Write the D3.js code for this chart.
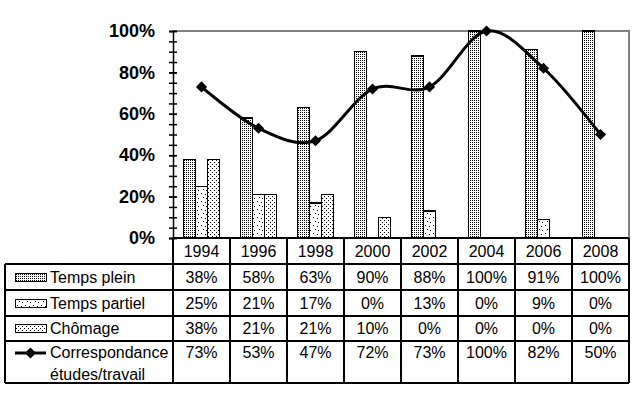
<!DOCTYPE html>
<html lang="fr">
<head>
<meta charset="UTF-8">
<script src="https://d3js.org/d3.v7.min.js"></script>
<style>
  body { margin: 0; background: #fff; }
  text { font-family: Arial, "Liberation Sans", sans-serif; fill: #000; }
</style>
</head>
<body>
<svg id="chart" width="639" height="399"></svg>
<script>
const annees = ["1994", "1996", "1998", "2000", "2002", "2004", "2006", "2008"];
const tempsPlein = [38, 58, 63, 90, 88, 100, 91, 100];
const tempsPartiel = [25, 21, 17, 0, 13, 0, 9, 0];
const chomage = [38, 21, 21, 10, 0, 0, 0, 0];
const correspondance = [73, 53, 47, 72, 73, 100, 82, 50];
const yTicks = [0, 20, 40, 60, 80, 100];

const series = [
  { nom: "Temps plein", valeurs: tempsPlein, motif: "url(#p-plein)" },
  { nom: "Temps partiel", valeurs: tempsPartiel, motif: "url(#p-partiel)" },
  { nom: "Chômage", valeurs: chomage, motif: "url(#p-chomage)" }
];

const svg = d3.select("#chart");
const plot = { left: 173, right: 629, top: 31, bottom: 238 };
const tableau = { left: 5, rows: [238, 264, 290, 316, 341, 383] };

// motifs des barres
const defs = svg.append("defs");
function motif(id, w, h, pts) {
  const p = defs.append("pattern").attr("id", id)
    .attr("patternUnits", "userSpaceOnUse").attr("width", w).attr("height", h);
  p.append("rect").attr("width", w).attr("height", h).attr("fill", "#fff");
  pts.forEach(([x, y]) => p.append("rect").attr("x", x).attr("y", y)
    .attr("width", 1).attr("height", 1).attr("fill", "#000")
    .attr("shape-rendering", "crispEdges"));
}
motif("p-plein", 2, 2, [[0, 0]]);
motif("p-partiel", 8, 8, [[1, 1], [5, 2], [3, 5], [6, 6]]);
motif("p-chomage", 4, 4, [[0, 0], [2, 2]]);

const x = d3.scaleBand().domain(annees).range([plot.left, plot.right]);
const xs = d3.scaleBand().domain(series.map(s => s.nom)).range([10.5, 46.5]);
const y = d3.scaleLinear().domain([0, 100]).range([plot.bottom, plot.top]);

// cadre gris de la zone de tracé
svg.append("path")
  .attr("d", `M${plot.left},${plot.top}H${plot.right}V${plot.bottom}`)
  .attr("fill", "none").attr("stroke", "#808080").attr("stroke-width", 1.2)
  .attr("shape-rendering", "crispEdges");

// barres
series.forEach(s => {
  svg.append("g").selectAll("rect")
    .data(s.valeurs.map((v, i) => ({ annee: annees[i], v })).filter(d => d.v > 0))
    .enter().append("rect")
    .attr("x", d => x(d.annee) + xs(s.nom))
    .attr("y", d => y(d.v))
    .attr("width", xs.bandwidth())
    .attr("height", d => y(0) - y(d.v))
    .attr("fill", s.motif)
    .attr("stroke", "#000").attr("stroke-width", 1.5)
    .attr("shape-rendering", "crispEdges");
});

// axe vertical : petites graduations
const mineures = d3.range(0, 101, 5);
const axeMin = svg.append("g").attr("transform", `translate(${plot.left},0)`)
  .call(d3.axisLeft(y).tickValues(mineures).tickSize(4).tickFormat(""));
axeMin.selectAll(".tick line").attr("x1", 4).attr("stroke-width", 1.5);
axeMin.select(".domain").attr("stroke-width", 1.5);
const axeMaj = svg.append("g").attr("transform", `translate(${plot.left},0)`)
  .call(d3.axisLeft(y).tickValues(yTicks).tickSize(4).tickPadding(14).tickFormat(d => d + "%"));
axeMaj.select(".domain").remove();
axeMaj.selectAll(".tick line").attr("x1", 4).attr("stroke-width", 1.5);
axeMaj.selectAll("text").style("font-size", "18px").style("font-weight", "bold")
  .attr("font-family", null);

// courbe correspondance
const ligne = d3.line()
  .x((d, i) => x(annees[i]) + x.bandwidth() / 2)
  .y(d => y(d))
  .curve(d3.curveCatmullRom.alpha(0));
svg.append("path").datum(correspondance)
  .attr("d", ligne).attr("fill", "none").attr("stroke", "#000").attr("stroke-width", 3);
const losange = d3.symbol(d3.symbolSquare, 62);
svg.append("g").selectAll("path").data(correspondance).enter().append("path")
  .attr("d", losange)
  .attr("transform", (d, i) => `translate(${x(annees[i]) + x.bandwidth() / 2},${y(d)}) rotate(45)`)
  .attr("fill", "#000");

// tableau de données
const grille = svg.append("g").attr("stroke", "#000").attr("stroke-width", 1.2)
  .attr("shape-rendering", "crispEdges");
grille.append("line").attr("x1", plot.left).attr("x2", plot.right)
  .attr("y1", tableau.rows[0]).attr("y2", tableau.rows[0]).attr("stroke-width", 1.5);
tableau.rows.slice(1).forEach(r => grille.append("line")
  .attr("x1", tableau.left).attr("x2", plot.right).attr("y1", r).attr("y2", r));
grille.append("line").attr("x1", tableau.left).attr("x2", tableau.left)
  .attr("y1", tableau.rows[1]).attr("y2", tableau.rows[5]);
annees.forEach(a => grille.append("line").attr("x1", x(a)).attr("x2", x(a))
  .attr("y1", tableau.rows[0]).attr("y2", tableau.rows[5]));
grille.append("line").attr("x1", plot.right).attr("x2", plot.right)
  .attr("y1", tableau.rows[0]).attr("y2", tableau.rows[5]);

const cx = a => x(a) + x.bandwidth() / 2;
svg.append("g").selectAll("text").data(annees).enter().append("text")
  .attr("x", cx).attr("y", 257).attr("text-anchor", "middle")
  .style("font-size", "16px").text(d => d);

const lignesTab = [
  { valeurs: tempsPlein, yTexte: 283 },
  { valeurs: tempsPartiel, yTexte: 309 },
  { valeurs: chomage, yTexte: 334 },
  { valeurs: correspondance, yTexte: 358 }
];
lignesTab.forEach(l => {
  svg.append("g").selectAll("text").data(l.valeurs).enter().append("text")
    .attr("x", (d, i) => cx(annees[i])).attr("y", l.yTexte).attr("text-anchor", "middle")
    .style("font-size", "16px").text(d => d + "%");
});

// légende dans le tableau
const legX = 15, legW = 31;
series.forEach((s, i) => {
  const yc = lignesTab[i].yTexte - 6;
  svg.append("rect").attr("x", legX).attr("y", yc - 4).attr("width", legW).attr("height", 8)
    .attr("fill", s.motif).attr("stroke", "#000").attr("stroke-width", 1)
    .attr("shape-rendering", "crispEdges");
  svg.append("text").attr("x", 50).attr("y", lignesTab[i].yTexte)
    .style("font-size", "16px").text(s.nom);
});
const yl = lignesTab[3].yTexte - 5;
svg.append("line").attr("x1", legX).attr("x2", legX + legW).attr("y1", yl).attr("y2", yl)
  .attr("stroke", "#000").attr("stroke-width", 3);
svg.append("path").attr("d", losange)
  .attr("transform", `translate(${legX + legW / 2},${yl}) rotate(45)`).attr("fill", "#000");
svg.append("text").attr("x", 50).attr("y", 358).style("font-size", "16px").text("Correspondance");
svg.append("text").attr("x", 50).attr("y", 380).style("font-size", "16px").text("études/travail");
</script>
</body>
</html>
